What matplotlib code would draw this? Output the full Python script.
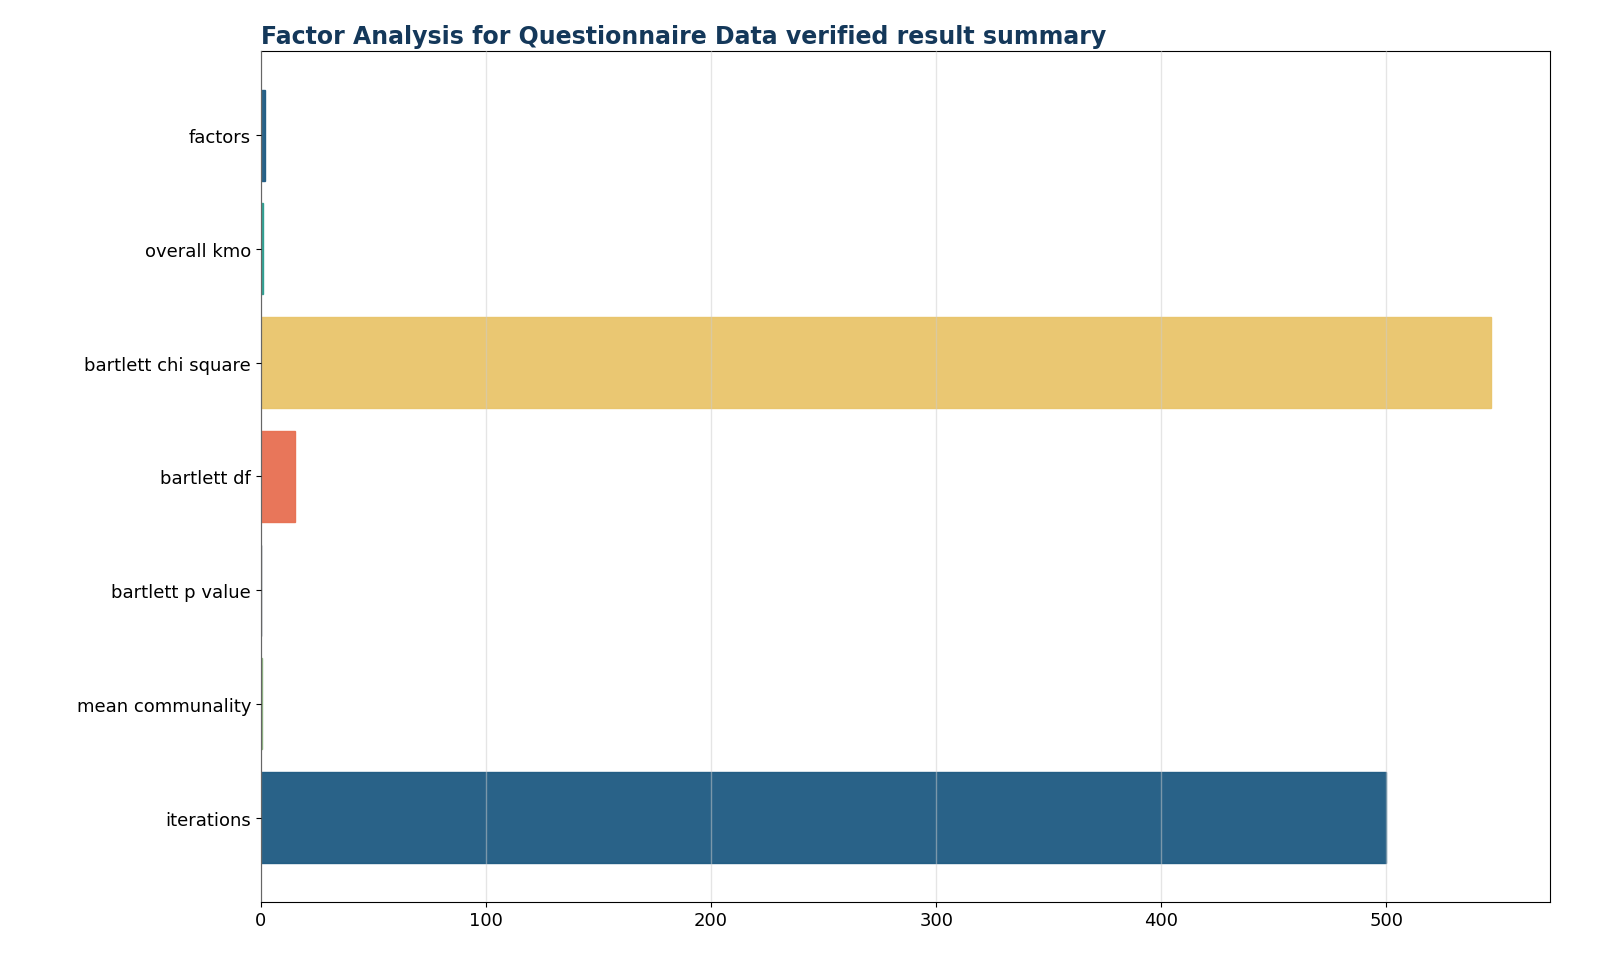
import matplotlib
matplotlib.use("Agg")
import matplotlib.pyplot as plt

labels = ["factors", "overall kmo", "bartlett chi square", "bartlett df",
          "bartlett p value", "mean communality", "iterations"]
values = [2, 0.78, 546.2, 15, 0.0, 0.52, 500]
colors = ["#1d5a82", "#2a9d8f", "#e9c46a", "#e76f51", "#264653", "#8ab17d", "#1d5a82"]

fig, ax = plt.subplots(figsize=(16, 9.78), dpi=100)
ax.barh(labels, values, color=colors, alpha=0.95, edgecolor=colors, linewidth=1)
ax.invert_yaxis()
ax.set_xlim(0, None)
ax.margins(x=0.05)
ax.grid(axis="x", color="#cccccc", alpha=0.5, linewidth=1)
ax.set_axisbelow(False)
ax.tick_params(labelsize=13)
ax.set_title("Factor Analysis for Questionnaire Data verified result summary",
             loc="left", fontsize=17, fontweight="bold", color="#14385a")
fig.subplots_adjust(left=0.163, right=0.969, top=0.947, bottom=0.077)
ax.set_xlim(0, 572.8)
fig.savefig("out.png")
